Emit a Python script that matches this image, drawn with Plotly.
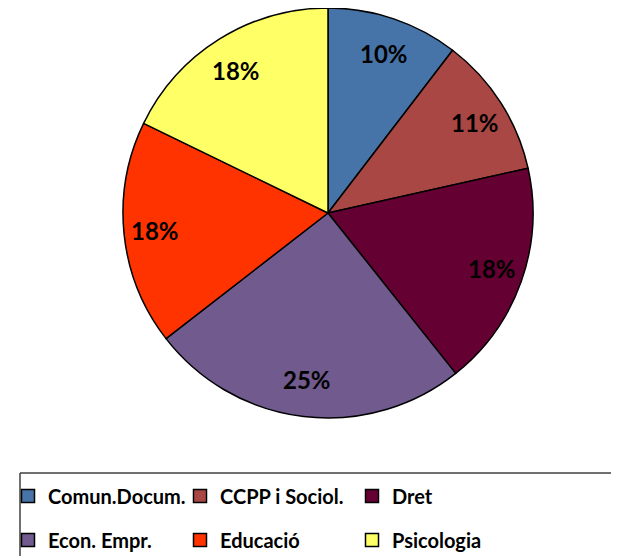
import math
import plotly.graph_objects as go

categories = ["Comun.Docum.", "CCPP i Sociol.", "Dret", "Econ. Empr.", "Educació", "Psicologia"]
values = [10.4, 11.1, 17.8, 25.2, 17.7, 17.8]
colors = ["#4674A8", "#A94745", "#650033", "#715A8E", "#FF3300", "#FFFF66"]

# the page body adds an 8px offset; positions below are in figure pixels
W, H = 619, 556
cx, cy, r = 320, 205, 205

fig = go.Figure()
fig.add_trace(go.Pie(
    labels=categories,
    values=values,
    sort=False,
    direction="clockwise",
    rotation=0,
    marker=dict(colors=colors, line=dict(color="black", width=1.5)),
    textinfo="none",
    domain=dict(x=[(cx - r) / W, (cx + r) / W], y=[1 - (cy + r) / H, 1 - (cy - r) / H]),
    hoverinfo="label+percent",
    showlegend=False,
))

# percentage labels placed along each slice's mid-angle
total = sum(values)
cum = 0.0
for v in values:
    mid = (cum + v / 2) / total * 2 * math.pi
    cum += v
    px = cx + 0.85 * r * math.sin(mid)
    py = cy - 0.82 * r * math.cos(mid)
    fig.add_annotation(
        x=px / W, y=1 - py / H, xref="paper", yref="paper",
        text=f"{round(v / total * 100)}%", showarrow=False,
        font=dict(family="Lato", size=24, color="black", weight="bold"),
        xanchor="center", yanchor="middle",
    )

# legend entries (two rows, as in the reference)
for i, (name, col) in enumerate(zip(categories, colors)):
    fig.add_trace(go.Scatter(
        x=[None], y=[None], mode="markers", name=name,
        marker=dict(symbol="square", size=13, color=col, line=dict(color="black", width=1.5)),
        legend="legend" if i < 3 else "legend2",
        hoverinfo="skip",
    ))

leg_common = dict(
    orientation="h", xanchor="left", yanchor="middle",
    font=dict(family="Lato", size=20, color="black", weight="bold"),
    entrywidth=127, bgcolor="rgba(0,0,0,0)", borderwidth=0,
    itemclick=False, itemdoubleclick=False,
)

box_left, box_top = 12, 465
fig.update_layout(
    width=W, height=H,
    margin=dict(l=0, r=0, t=0, b=0, autoexpand=False),
    paper_bgcolor="white",
    plot_bgcolor="white",
    xaxis=dict(visible=False),
    yaxis=dict(visible=False),
    legend=dict(x=0, y=1 - 488 / H, **leg_common),
    legend2=dict(x=0, y=1 - 532 / H, **leg_common),
    shapes=[
        dict(type="line", xref="paper", yref="paper",
             x0=box_left / W, x1=1.0, y0=1 - box_top / H, y1=1 - box_top / H,
             line=dict(color="#404040", width=1.5)),
        dict(type="line", xref="paper", yref="paper",
             x0=box_left / W, x1=box_left / W, y0=0.0, y1=1 - box_top / H,
             line=dict(color="#404040", width=1.5)),
    ],
)

fig.write_html("out.html")
